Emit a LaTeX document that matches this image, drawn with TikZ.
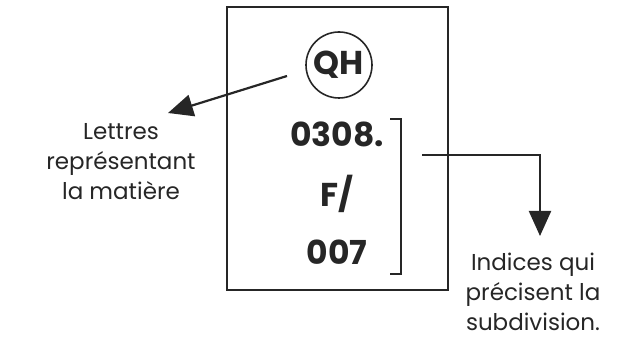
\documentclass[tikz,border=0pt]{standalone}
\usepackage{fontspec}
\setmainfont{Poppins}
\usetikzlibrary{arrows.meta}
\begin{document}
\begin{tikzpicture}[x=1pt,y=-1pt,
  line/.style={line width=2.2pt, draw=black!85},
  arr/.style={line, -{Triangle[length=25pt,width=22pt]}},
  lbl/.style={font=\fontsize{23}{30}\selectfont, align=center, text=black!85, inner sep=0pt},
  code/.style={font=\fontsize{33}{36}\selectfont\bfseries, text=black!85, inner sep=0pt}]
\useasboundingbox (0,0) rectangle (627,339);
\node[line, draw, minimum width=221pt, minimum height=283pt, inner sep=0pt] (box) at (337.5,148.5) {};
\node[line, draw, circle, minimum size=66pt, inner sep=0pt, line width=1.6pt, font=\fontsize{33}{36}\selectfont\bfseries, text=black!85] (qh) at (339,65) {QH};
\node[code, anchor=base] (n1) at (337,147) {0308.};
\node[code, anchor=base] (n2) at (337,207) {F/};
\node[code, anchor=base] (n3) at (337,265) {007};
\coordinate (b1) at (390,119);
\coordinate (b2) at (401,119);
\coordinate (b3) at (401,274);
\coordinate (b4) at (390,274);
\draw[line, line width=1.6pt] (b1) -- (b2) -- (b3) -- (b4);
\node[lbl, anchor=north] (left) at (121,123) {Lettres\\représentant\\la matière};
\node[lbl, anchor=north] (right) at (533,253) {Indices qui\\précisent la\\subdivision.};
\coordinate (s1) at (287,76);
\coordinate (t1) at (168,113);
\draw[arr] (s1) -- (t1);
\coordinate (s2) at (422,155);
\coordinate (c2) at (540,155);
\coordinate (t2) at (540,236);
\draw[arr] (s2) -- (c2) -- (t2);
\end{tikzpicture}
\end{document}
